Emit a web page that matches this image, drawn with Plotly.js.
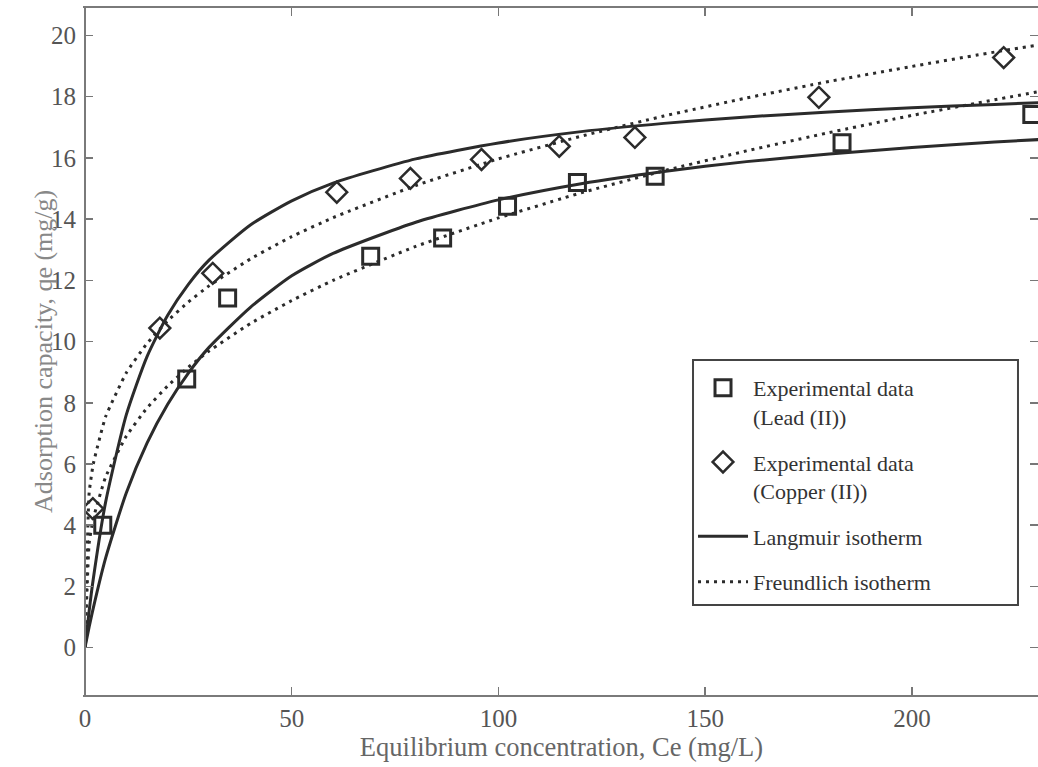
<!DOCTYPE html>
<html>
<head>
<meta charset="utf-8">
<script src="https://cdn.plot.ly/plotly-3.0.1.min.js"></script>
<style>html,body{margin:0;padding:0;background:#fff;}#chart{width:1038px;height:767px;}</style>
</head>
<body>
<div id="chart"></div>
<script>
// Experimental data
const leadCe = [4.3, 24.6, 34.5, 69.1, 86.5, 102.2, 119.1, 137.9, 183.1, 229.0];
const leadQe = [4.0, 8.78, 11.42, 12.79, 13.38, 14.42, 15.2, 15.4, 16.5, 17.42];
const copperCe = [1.9, 18.1, 30.9, 60.9, 78.7, 95.9, 114.7, 133.0, 177.5, 222.2];
const copperQe = [4.54, 10.44, 12.23, 14.88, 15.33, 15.95, 16.38, 16.67, 17.98, 19.28];

// Model curves
const curveCe = [0, 1, 2, 5, 10, 15, 20, 25, 30, 40, 50, 60, 80, 100, 120, 140, 160, 180, 200, 220, 232];
const copperLangmuir = [0, 1.19, 2.24, 4.76, 7.61, 9.51, 10.86, 11.87, 12.66, 13.81, 14.6, 15.18, 15.97, 16.49, 16.86, 17.13, 17.34, 17.5, 17.64, 17.75, 17.81];
const leadLangmuir = [0, 0.67, 1.29, 2.93, 5.06, 6.68, 7.95, 8.97, 9.81, 11.12, 12.15, 12.88, 13.9, 14.63, 15.16, 15.56, 15.88, 16.13, 16.34, 16.52, 16.61];
const copperFreundlich = [0, 5.05, 6.0, 7.55, 8.98, 9.94, 10.68, 11.29, 11.82, 12.7, 13.43, 14.05, 15.1, 15.97, 16.71, 17.37, 17.96, 18.5, 18.99, 19.46, 19.72];
const leadFreundlich = [0, 3.4, 4.21, 5.58, 6.91, 7.83, 8.55, 9.16, 9.69, 10.59, 11.34, 12.0, 13.11, 14.04, 14.86, 15.58, 16.23, 16.83, 17.39, 17.9, 18.2];

const names = {
  lead: 'Experimental data<br>(Lead (II))',
  copper: 'Experimental data<br>(Copper (II))',
  langmuir: 'Langmuir isotherm',
  freundlich: 'Freundlich isotherm'
};

const ink = '#2b2b2b';
const dotDash = '3px,5px';

const traces = [
  {x: leadCe, y: leadQe, type: 'scatter', mode: 'markers', name: names.lead, legendgroup: 'a',
   marker: {symbol: 'square-open', size: 16, color: ink, line: {width: 3, color: ink}}},
  {x: copperCe, y: copperQe, type: 'scatter', mode: 'markers', name: names.copper, legendgroup: 'b',
   marker: {symbol: 'diamond-open', size: 16, color: ink, line: {width: 2.5, color: ink}}},
  {x: curveCe, y: copperLangmuir, type: 'scatter', mode: 'lines', name: names.langmuir, legendgroup: 'c',
   line: {color: ink, width: 3, shape: 'spline', smoothing: 0.6}},
  {x: curveCe, y: leadLangmuir, type: 'scatter', mode: 'lines', name: names.langmuir, legendgroup: 'c', showlegend: false,
   line: {color: ink, width: 3, shape: 'spline', smoothing: 0.6}},
  {x: curveCe, y: copperFreundlich, type: 'scatter', mode: 'lines', name: names.freundlich, legendgroup: 'd',
   line: {color: ink, width: 3, dash: dotDash, shape: 'spline', smoothing: 0.4}},
  {x: curveCe, y: leadFreundlich, type: 'scatter', mode: 'lines', name: names.freundlich, legendgroup: 'd', showlegend: false,
   line: {color: ink, width: 3, dash: dotDash, shape: 'spline', smoothing: 0.4}}
];

const serif = 'Liberation Serif, Times New Roman, serif';

const layout = {
  width: 1038, height: 767,
  margin: {l: 85, r: 0, t: 8, b: 72},
  paper_bgcolor: '#fff', plot_bgcolor: '#fff',
  font: {family: serif, color: '#555'},
  showlegend: true,
  xaxis: {
    range: [0, 230.5], tickvals: [0, 50, 100, 150, 200], ticktext: ['0', '50', '100', '150', '200'],
    ticks: 'inside', ticklen: 8, tickwidth: 1.5, tickcolor: '#777',
    showline: true, linecolor: '#7a7a7a', linewidth: 2, mirror: 'ticks',
    showgrid: false, zeroline: false,
    tickfont: {family: serif, size: 25, color: '#555'},
    title: {text: 'Equilibrium concentration, Ce (mg/L)', font: {family: serif, size: 26.5, color: '#666'}, standoff: 6}
  },
  yaxis: {
    range: [-1.55, 20.9], tickvals: [0, 2, 4, 6, 8, 10, 12, 14, 16, 18, 20],
    ticks: 'inside', ticklen: 8, tickwidth: 1.5, tickcolor: '#777',
    showline: true, linecolor: 'rgba(0,0,0,0)', linewidth: 2, mirror: 'ticks',
    showgrid: false, zeroline: false,
    tickfont: {family: serif, size: 25, color: '#555'},
    ticklabelstandoff: 2
  },
  legend: {
    x: 0.638, y: 0.4775, xanchor: 'left', yanchor: 'top',
    bgcolor: 'rgba(0,0,0,0)', borderwidth: 0,
    font: {family: serif, size: 22, color: '#333'},
    valign: 'top', tracegroupgap: 14, itemwidth: 50
  },
  shapes: [
    {type: 'line', xref: 'paper', yref: 'paper', x0: 0, x1: 0, y0: 0, y1: 1, line: {color: '#7a7a7a', width: 2}},
    {type: 'rect', xref: 'paper', yref: 'paper', x0: 0.638, x1: 0.979, y0: 0.131, y1: 0.4877,
     layer: 'above', fillcolor: '#fff', line: {color: '#444', width: 2}}
  ],
  annotations: [
    {text: 'Adsorption capacity, qe (mg/g)', xref: 'paper', yref: 'paper', x: 0, y: 0.5, xshift: -58,
     textangle: -90, showarrow: false, font: {family: serif, size: 26, color: '#888'}}
  ]
};

Plotly.newPlot('chart', traces, layout, {displayModeBar: false, staticPlot: true});
</script>
</body>
</html>
